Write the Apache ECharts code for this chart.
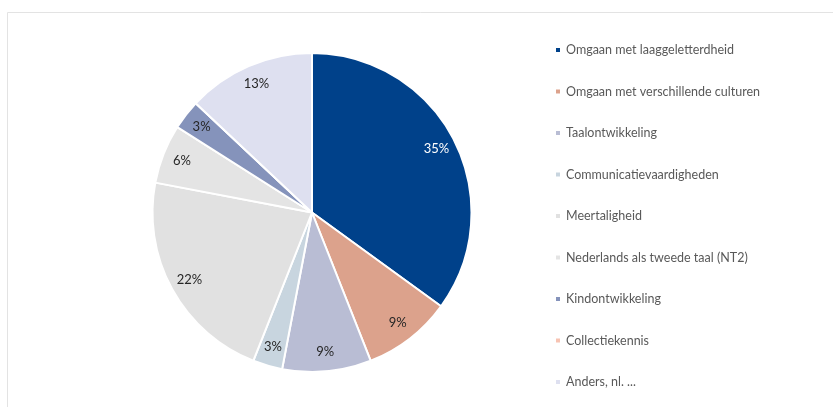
<!DOCTYPE html>
<html>
<head>
<meta charset="utf-8">
<script src="https://cdn.jsdelivr.net/npm/echarts@6/dist/echarts.min.js"></script>
<style>
  html, body { margin: 0; padding: 0; background: #fff; }
  #chart { width: 833px; height: 407px; }
</style>
</head>
<body>
<div id="chart"></div>
<script>
const categories = [
  'Omgaan met laaggeletterdheid',
  'Omgaan met verschillende culturen',
  'Taalontwikkeling',
  'Communicatievaardigheden',
  'Meertaligheid',
  'Nederlands als tweede taal (NT2)',
  'Kindontwikkeling',
  'Collectiekennis',
  'Anders, nl. ...'
];
const values = [35, 9, 9, 3, 22, 6, 3, 0, 13];

// slice colours, and label colour per slice (white on the dark one)
const colors = ['#00418a', '#dca28c', '#b9bdd4', '#c8d5df', '#e1e1e1', '#e4e4e4', '#8593bb', '#f7c3b2', '#dee0f0'];
const labelColors = ['#ffffff', '#262626', '#262626', '#262626', '#262626', '#262626', '#262626', '#262626', '#262626'];

const pieData = categories.map((name, i) => ({name: name, value: values[i]}));
const labelData = categories.map((name, i) => ({
  name: name,
  value: values[i],
  label: {color: labelColors[i]}
}));

const chart = echarts.init(document.getElementById('chart'));
chart.setOption({
  animation: false,
  color: colors,
  graphic: [{
    type: 'rect',
    shape: {x: 7.5, y: 12.5, width: 840, height: 420},
    style: {fill: 'none', stroke: '#e3e3e3', lineWidth: 1},
    silent: true
  }],
  legend: {
    orient: 'vertical',
    left: 549,
    top: 38,
    itemWidth: 6,
    itemHeight: 6,
    itemGap: 27.5,
    icon: 'rect',
    data: categories,
    textStyle: {
      fontFamily: 'Lato',
      fontSize: 12.5,
      lineHeight: 14,
      color: '#595959',
      textBorderWidth: 0,
      textBorderColor: 'transparent',
      textShadowBlur: 0,
      textShadowColor: 'transparent'
    }
  },
  series: [
    {
      // the slices
      type: 'pie',
      center: [312, 212.5],
      radius: [0, 159.5],
      startAngle: 90,
      clockwise: true,
      data: pieData,
      label: {show: false},
      labelLine: {show: false},
      itemStyle: {borderColor: '#fff', borderWidth: 2},
      emphasis: {disabled: true}
    },
    {
      // labels only, placed near the outer rim like the reference
      type: 'pie',
      center: [312, 212.5],
      radius: [114, 159.5],
      startAngle: 90,
      clockwise: true,
      silent: true,
      legendHoverLink: false,
      data: labelData,
      itemStyle: {color: 'rgba(0,0,0,0)'},
      labelLine: {show: false},
      label: {
        show: true,
        position: 'inside',
        fontFamily: 'Lato',
        fontSize: 13,
        textBorderWidth: 0,
        formatter: p => p.value > 0 ? Math.round(p.percent) + '%' : ''
      },
      emphasis: {disabled: true}
    }
  ]
});
</script>
</body>
</html>
